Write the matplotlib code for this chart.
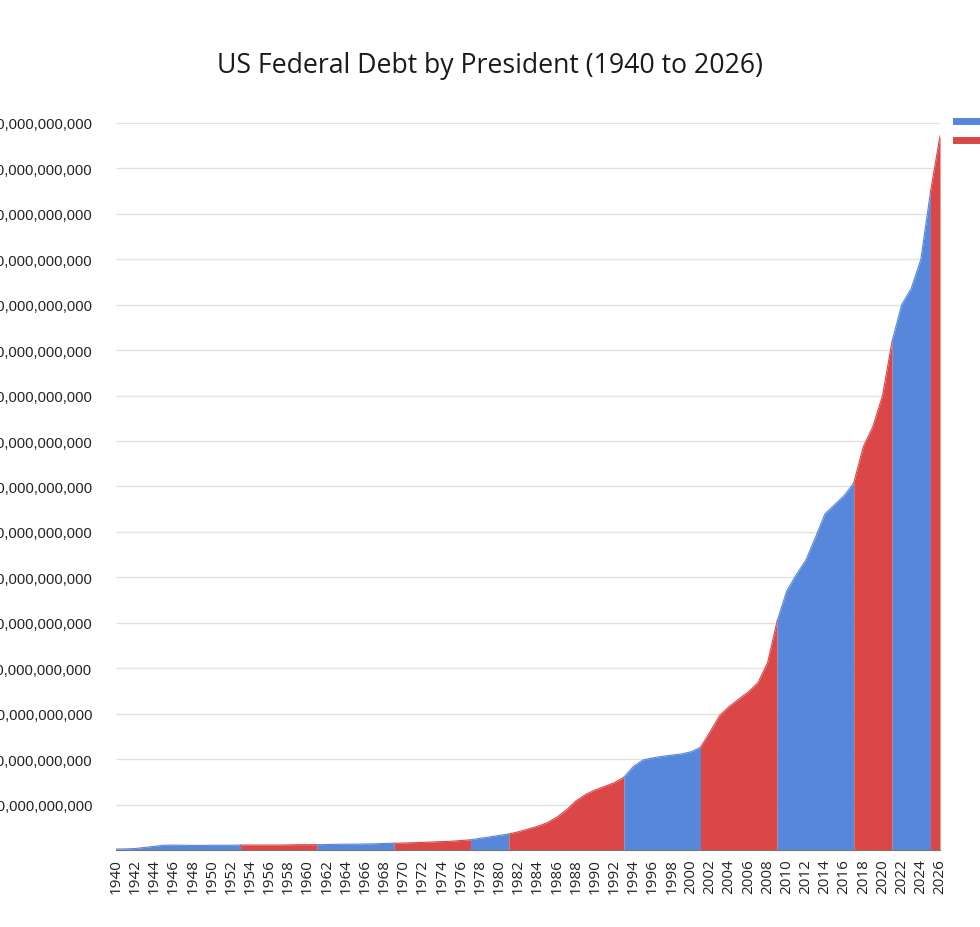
import matplotlib.pyplot as plt
from matplotlib.lines import Line2D
from matplotlib.ticker import FuncFormatter
import numpy as np

# debt per year, trillions of dollars
years = list(range(1940, 2027))
debt_tn = [
    0.05, 0.06, 0.08, 0.14, 0.20, 0.26, 0.27, 0.26, 0.25, 0.25,   # 1940s
    0.26, 0.26, 0.26, 0.27, 0.27, 0.27, 0.27, 0.27, 0.28, 0.29,   # 1950s
    0.29, 0.29, 0.30, 0.31, 0.32, 0.32, 0.33, 0.34, 0.36, 0.37,   # 1960s
    0.38, 0.40, 0.42, 0.44, 0.46, 0.48, 0.52, 0.56, 0.64, 0.72,   # 1970s
    0.80, 0.88, 1.00, 1.15, 1.30, 1.50, 1.80, 2.20, 2.70, 3.05,   # 1980s
    3.30, 3.50, 3.70, 4.00, 4.60, 4.95, 5.07, 5.15, 5.22, 5.28,   # 1990s
    5.40, 5.65, 6.50, 7.40, 7.90, 8.30, 8.70, 9.20, 10.30, 12.60, # 2000s
    14.25, 15.15, 15.95, 17.20, 18.50, 19.00, 19.50, 20.20, 22.20, 23.30,  # 2010s
    25.00, 28.00, 30.00, 30.90, 32.50, 36.20, 39.30,              # 2020s
]

# first year of each party's run in office
term_starts = [1940, 1953, 1961, 1969, 1977, 1981, 1993, 2001, 2009, 2017, 2021, 2025]
term_party = ['Democrat', 'Republican', 'Democrat', 'Republican', 'Democrat', 'Republican',
              'Democrat', 'Republican', 'Democrat', 'Republican', 'Democrat', 'Republican']

party_colors = {'Democrat': '#5787DB', 'Republican': '#DB4747'}

x = np.array(years)
y = np.array(debt_tn) * 1e12

fig = plt.figure(figsize=(9.8, 9.28), dpi=100)
ax = fig.add_axes([0.1184, 0.0830, 0.8408, 0.7834])

ends = term_starts[1:] + [years[-1]]
for start, end, party in zip(term_starts, ends, term_party):
    m = (x >= start) & (x <= end)
    ax.fill_between(x[m], 0, y[m], color=party_colors[party], linewidth=0, zorder=2)
    ax.plot(x[m], y[m], color=party_colors[party], linewidth=0.8, zorder=3)

ax.set_xlim(1940, 2026)
ax.set_ylim(0, 40e12)

ax.set_xticks(years[::2])
ax.set_xticklabels([str(v) for v in years[::2]], rotation=90,
                   fontfamily='Open Sans', fontsize=11, color='#222222')
ax.set_yticks(np.arange(2.5e12, 40.1e12, 2.5e12))
ax.yaxis.set_major_formatter(FuncFormatter(lambda v, p: f'{v:,.0f}'))
for lab in ax.get_yticklabels():
    lab.set_fontfamily('Liberation Sans')
    lab.set_fontsize(10.6)
    lab.set_color('#222222')
ax.tick_params(axis='y', length=0, pad=17)
ax.tick_params(axis='x', length=0, pad=6)

ax.grid(axis='y', color='#e2e2e2', linewidth=1, zorder=0)
for s in ['top', 'right', 'left']:
    ax.spines[s].set_visible(False)
ax.spines['bottom'].set_color('#777777')
ax.spines['bottom'].set_zorder(4)

fig.text(0.5, 1 - 66 / 928, 'US Federal Debt by President (1940 to 2026)',
         ha='center', va='center', fontfamily='Open Sans', fontsize=19.2,
         fontweight='medium', color='#1a1a1a')

handles = [Line2D([0], [0], color=party_colors[p], linewidth=5) for p in ['Democrat', 'Republican']]
fig.legend(handles, ['Democrat', 'Republican'], loc='upper left',
           bbox_to_anchor=(956 / 980, 1 - 116 / 928), frameon=False,
           handlelength=2.5, labelspacing=0.3, borderpad=0, borderaxespad=0,
           prop={'family': 'Open Sans', 'size': 10})

fig.savefig('out.png', dpi=100)
